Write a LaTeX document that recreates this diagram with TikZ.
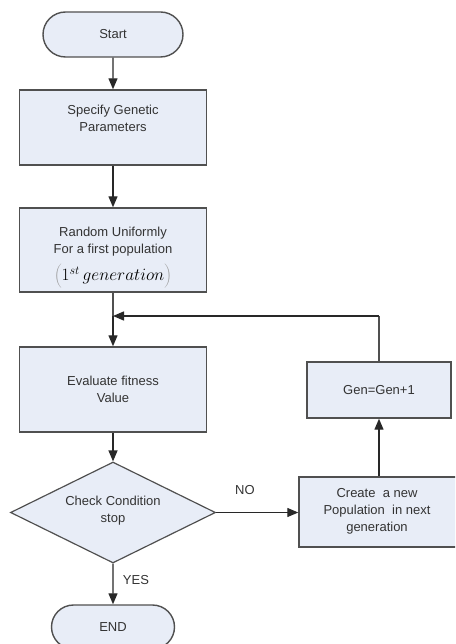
\documentclass[tikz,border=0pt]{standalone}
\usepackage{fontspec}
\setmainfont{Liberation Sans}
\usetikzlibrary{arrows.meta,shapes.misc,shapes.geometric}
\definecolor{boxfill}{RGB}{232,237,247}
\definecolor{boxline}{RGB}{80,80,80}
\definecolor{wire}{RGB}{40,40,40}
\begin{document}
\begin{tikzpicture}[x=1pt,y=-1pt,
  every node/.style={font=\fontsize{13}{17}\selectfont, text=black!80, align=center},
  proc/.style={draw=boxline, fill=boxfill, line width=1.4pt, rectangle, inner sep=0pt},
  term/.style={draw=boxline, fill=boxfill, line width=1.4pt, rounded rectangle, inner sep=0pt},
  decide/.style={draw=boxline, fill=boxfill, line width=1.2pt, diamond, inner sep=0pt, aspect=2},
  flow/.style={draw=wire, line width=1.3pt, -{Triangle[length=11pt,width=9pt]}},
  wireline/.style={draw=boxline, line width=1.3pt}]
\useasboundingbox (0,0) rectangle (455,644);
\begin{scope}
\clip (0,0) rectangle (455,644);
% terminals and process boxes
\node[term, minimum width=140pt, minimum height=45pt] (start) at (113,34.5) {Start};
\node[proc, minimum width=187pt, minimum height=75pt] (spec) at (113,127.5) {};
\node (specT) at (113,118) {Specify Genetic\\Parameters};
\node[proc, minimum width=187pt, minimum height=84pt] (rand) at (113,250) {};
\node (randT) at (113,241.5) {Random Uniformly\\For a first population};
\node (randM) at (113,276) {\fontsize{18}{21}\selectfont$\textcolor{black!40}{\Bigg(}\textcolor{black}{1^{st}\,generation}\textcolor{black!40}{\Bigg)}$};
\coordinate (merge) at (113,316);
\node[proc, minimum width=187pt, minimum height=85pt] (eval) at (113,389.5) {Evaluate fitness\\Value};
\node[decide, minimum width=205pt, minimum height=101pt] (check) at (113,512.5) {};
\node (checkT) at (113,511) {Check Condition\\stop};
\node[term, minimum width=123pt, minimum height=44pt] (end) at (113,627) {END};
\node[proc, minimum width=162pt, minimum height=70pt] (create) at (380,512) {};
\node (createT) at (377,511.5) {Create \ a new\\Population \ in next\\generation};
\node[proc, minimum width=144pt, minimum height=56pt] (gen) at (379,390) {Gen=Gen+1};
\coordinate (loop) at (379,316);
% connectors
\draw[flow] (start) -- (spec);
\draw[flow] (spec) -- (rand);
\draw[wireline] (rand) -- (merge);
\draw[flow] (merge) -- (eval);
\draw[flow] (eval) -- (check);
\draw[flow] (check) -- node[right=6pt, pos=0.4] (yes) {YES} (end);
\draw[flow] (check.east) -- node[above=14pt, pos=0.35] (no) {NO} (create.west |- check.east);
\draw[flow] (create.north -| gen) -- (gen);
\draw[wireline] (gen) -- (loop);
\draw[flow] (loop) -- (merge);
\end{scope}
\end{tikzpicture}
\end{document}
